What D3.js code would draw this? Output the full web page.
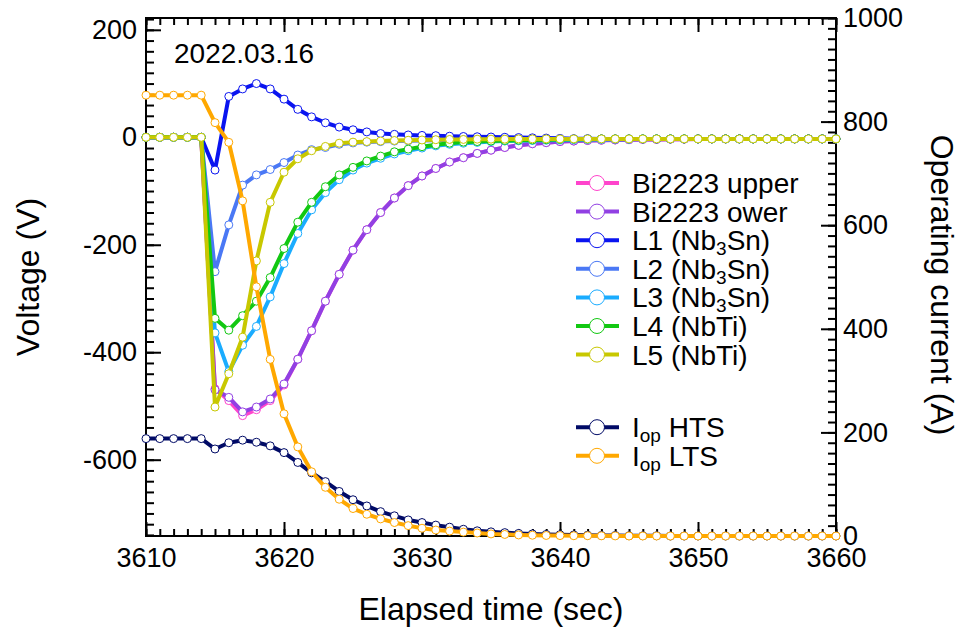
<!DOCTYPE html>
<html><head><meta charset="utf-8">
<script src="https://cdn.jsdelivr.net/npm/d3@7"></script>
<style>body{margin:0;background:#fff}svg{display:block}text{font-family:"Liberation Sans",Arial,Helvetica,sans-serif}</style>
</head><body><svg id="c" width="960" height="633"></svg>
<script>
const times = [3610,3611,3612,3613,3614,3615,3616,3617,3618,3619,
 3620,3621,3622,3623,3624,3625,3626,3627,3628,3629,
 3630,3631,3632,3633,3634,3635,3636,3637,3638,3639,
 3640,3641,3642,3643,3644,3645,3646,3647,3648,3649,
 3650,3651,3652,3653,3654,3655,3656,3657,3658,3659,3660];
const biUpper = [0,0,0,0,0,-468,-490,-518,-507,-490,
 -461,-413,-360,-305,-255,-210,-172,-140,-113,-90,
 -72,-58,-46,-38,-30,-24,-19,-15,-12,-10,
 -8,-7,-6,-5.5,-5,-4.5,-4,-4,-3.5,-3.5,
 -3,-3,-3,-3,-3,-3,-3,-3,-3,-3,-3];
const biLower = [0,0,0,0,0,-470,-484,-511,-502,-487,
 -459,-413,-360,-305,-255,-210,-172,-140,-113,-90,
 -72,-58,-46,-38,-30,-24,-19,-15,-12,-10,
 -8,-7,-6,-5.5,-5,-4.5,-4,-4,-3.5,-3.5,
 -3,-3,-3,-3,-3,-3,-3,-3,-3,-3,-3];
const l1 = [0,0,0,0,0,-61,76,90,100,90,
 71,52,38,27,19,14,10,7,5.5,4.3,
 3.5,3,2,1.5,1,0.5,0,-0.5,-1,-1.5,
 -2,-2.5,-2.5,-3,-3,-3,-3,-3,-3,-3,
 -3,-3,-3,-3,-3,-3,-3,-3,-3,-3,-3];
const l2 = [0,0,0,0,0,-250,-163,-89,-70,-60,
 -47,-33,-23,-19,-13,-10.5,-9,-8,-7,-6.5,
 -6,-5.5,-5,-4.5,-4.5,-4,-4,-4,-3.5,-3.5,
 -3.5,-3.5,-3,-3,-3,-3,-3,-3,-3,-3,
 -3,-3,-3,-3,-3,-3,-3,-3,-3,-3,-3];
const l3 = [0,0,0,0,0,-364,-436,-387,-352,-297,
 -235,-179,-135,-103,-79,-61,-48,-39,-31,-25,
 -20,-16,-13,-11,-9.5,-8,-7,-6.5,-6,-5.5,
 -5,-4.5,-4,-4,-3.5,-3.5,-3,-3,-3,-3,
 -3,-3,-3,-3,-3,-3,-3,-3,-3,-3,-3];
const l4 = [0,0,0,0,0,-337,-359,-332,-305,-261,
 -207,-158,-121,-92,-70,-56,-44,-35,-27,-22,
 -17.5,-14,-11,-9,-8,-7,-6,-5.5,-5,-4.5,
 -4,-3.5,-3.5,-3,-3,-3,-3,-3,-3,-3,
 -3,-3,-3,-3,-3,-3,-3,-3,-3,-3,-3];
const l5 = [0,0,0,0,0,-502,-440,-372,-230,-121,
 -65,-40,-25,-17,-11,-9,-8,-7,-6,-5.5,
 -5,-4.5,-4,-4,-3.5,-3.5,-3.5,-3,-3,-3,
 -3,-3,-3,-3,-3,-3,-3,-3,-3,-3,
 -3,-3,-3,-3,-3,-3,-3,-3,-3,-3,-3];
const iopHTS = [188,188,188,188,188,168,180,185,181,174,
 161,142,122,105,86,70,58,47,39,31,
 26,21,17,13,10,8,6.5,5,4,3,
 2.5,2,1.5,1,1,0.5,0.5,0.5,0,0,
 0,0,0,0,0,0,0,0,0,0,0];
const iopLTS = [851,851,851,851,851,798,760,647,481,341,
 236,172,124,94,71,53,42,33,26,20,
 15,11.5,9.5,7.5,5.8,4,3,2,1.5,1,
 0.8,0.5,0.5,0.3,0.2,0,0,0,0,0,
 0,0,0,0,0,0,0,0,0,0,0];

const xMajor = [3610,3620,3630,3640,3650,3660];
const vMajor = [-600,-400,-200,0,200];
const iMajor = [0,200,400,600,800,1000];

const series = [
 {name:["Bi2223 upper"], values:biUpper, color:"#ff44cc", axis:"v"},
 {name:["Bi2223 ower"], values:biLower, color:"#9140e3", axis:"v"},
 {name:["L1 (Nb","3","Sn)"], values:l1, color:"#0a14f0", axis:"v"},
 {name:["L2 (Nb","3","Sn)"], values:l2, color:"#4a78f5", axis:"v"},
 {name:["L3 (Nb","3","Sn)"], values:l3, color:"#1aacff", axis:"v"},
 {name:["L4 (NbTi)"], values:l4, color:"#12c812", axis:"v"},
 {name:["L5 (NbTi)"], values:l5, color:"#c8c800", axis:"v"},
 {name:["I","op"," HTS"], values:iopHTS, color:"#000a66", axis:"i", gap:true},
 {name:["I","op"," LTS"], values:iopLTS, color:"#ffa800", axis:"i"}
];

const svg = d3.select("#c");
const L=146, R=836, T=18, B=536;
const x = d3.scaleLinear().domain([3610,3660]).range([L,R]);
const yV = d3.scaleLinear().domain([-742,222]).range([B,T]);
const yI = d3.scaleLinear().domain([0,1000]).range([B,T]);

const fs = 27, lfs = 28, tfs = 32;
const fmt = d => String(d);
function styleAxis(g){
  g.select(".domain").remove();
  g.selectAll(".tick line").attr("stroke","#000").attr("stroke-width",2);
  g.selectAll(".tick text").attr("font-size",fs).attr("fill","#000")
   .attr("font-family",'"Liberation Sans",Arial,sans-serif');
}
const minorX = d3.range(3610,3661,1), minorV = d3.range(-740,221,20), minorI = d3.range(0,1001,20);
// bottom
svg.append("g").attr("transform",`translate(0,${B})`)
  .call(d3.axisBottom(x).tickValues(minorX).tickSize(-7).tickFormat("")).call(styleAxis);
svg.append("g").attr("transform",`translate(0,${B})`)
  .call(d3.axisBottom(x).tickValues(xMajor).tickSize(-14).tickPadding(12).tickFormat(fmt)).call(styleAxis);
// top
svg.append("g").attr("transform",`translate(0,${T})`)
  .call(d3.axisTop(x).tickValues(minorX).tickSize(-7).tickFormat("")).call(styleAxis);
svg.append("g").attr("transform",`translate(0,${T})`)
  .call(d3.axisTop(x).tickValues(xMajor).tickSize(-14).tickFormat("")).call(styleAxis);
// left
svg.append("g").attr("transform",`translate(${L},0)`)
  .call(d3.axisLeft(yV).tickValues(minorV).tickSize(-8).tickFormat("")).call(styleAxis);
svg.append("g").attr("transform",`translate(${L},0)`)
  .call(d3.axisLeft(yV).tickValues(vMajor).tickSize(-15).tickPadding(9).tickFormat(fmt)).call(styleAxis);
// right
svg.append("g").attr("transform",`translate(${R},0)`)
  .call(d3.axisRight(yI).tickValues(minorI).tickSize(-8).tickFormat("")).call(styleAxis);
svg.append("g").attr("transform",`translate(${R},0)`)
  .call(d3.axisRight(yI).tickValues(iMajor).tickSize(-15).tickPadding(7).tickFormat(fmt)).call(styleAxis);

// frame
svg.append("rect").attr("x",L).attr("y",T).attr("width",R-L).attr("height",B-T)
  .attr("fill","none").attr("stroke","#000").attr("stroke-width",2);

// series
series.forEach(s=>{
  const yy = s.axis==="v"?yV:yI;
  const line = d3.line().x((d,i)=>x(times[i])).y(d=>yy(d));
  svg.append("path").datum(s.values).attr("d",line).attr("fill","none")
    .attr("stroke",s.color).attr("stroke-width",4).attr("stroke-linejoin","round");
  svg.append("g").selectAll("circle").data(s.values).join("circle")
    .attr("cx",(d,i)=>x(times[i])).attr("cy",d=>yy(d)).attr("r",4)
    .attr("fill","#fff").attr("stroke",s.color).attr("stroke-width",1);
});

// legend
const lg = svg.append("g");
let ly = 183;
series.forEach((s,k)=>{
  if (s.gap) ly += 44;
  lg.append("line").attr("x1",576).attr("x2",619).attr("y1",ly).attr("y2",ly)
    .attr("stroke",s.color).attr("stroke-width",4);
  lg.append("circle").attr("cx",597).attr("cy",ly).attr("r",7.5).attr("fill","#fff")
    .attr("stroke",s.color).attr("stroke-width",1);
  const t = lg.append("text").attr("x",632).attr("y",ly+10).attr("font-size",lfs);
  if (s.name.length===1) t.text(s.name[0]);
  else {
    t.append("tspan").text(s.name[0]);
    t.append("tspan").text(s.name[1]).attr("font-size",19).attr("dy",5);
    t.append("tspan").text(s.name[2]).attr("dy",-5);
  }
  ly += 28.6;
});

// date label
svg.append("text").attr("x",174).attr("y",63).attr("font-size",lfs).text("2022.03.16");
// axis titles
svg.append("text").attr("x",491).attr("y",620).attr("text-anchor","middle").attr("font-size",tfs).text("Elapsed time (sec)");
svg.append("text").attr("transform","translate(39,277) rotate(-90)").attr("text-anchor","middle").attr("font-size",tfs).text("Voltage (V)");
svg.append("text").attr("transform","translate(931,285) rotate(90)").attr("text-anchor","middle").attr("font-size",tfs).text("Operating current (A)");
</script></body></html>
